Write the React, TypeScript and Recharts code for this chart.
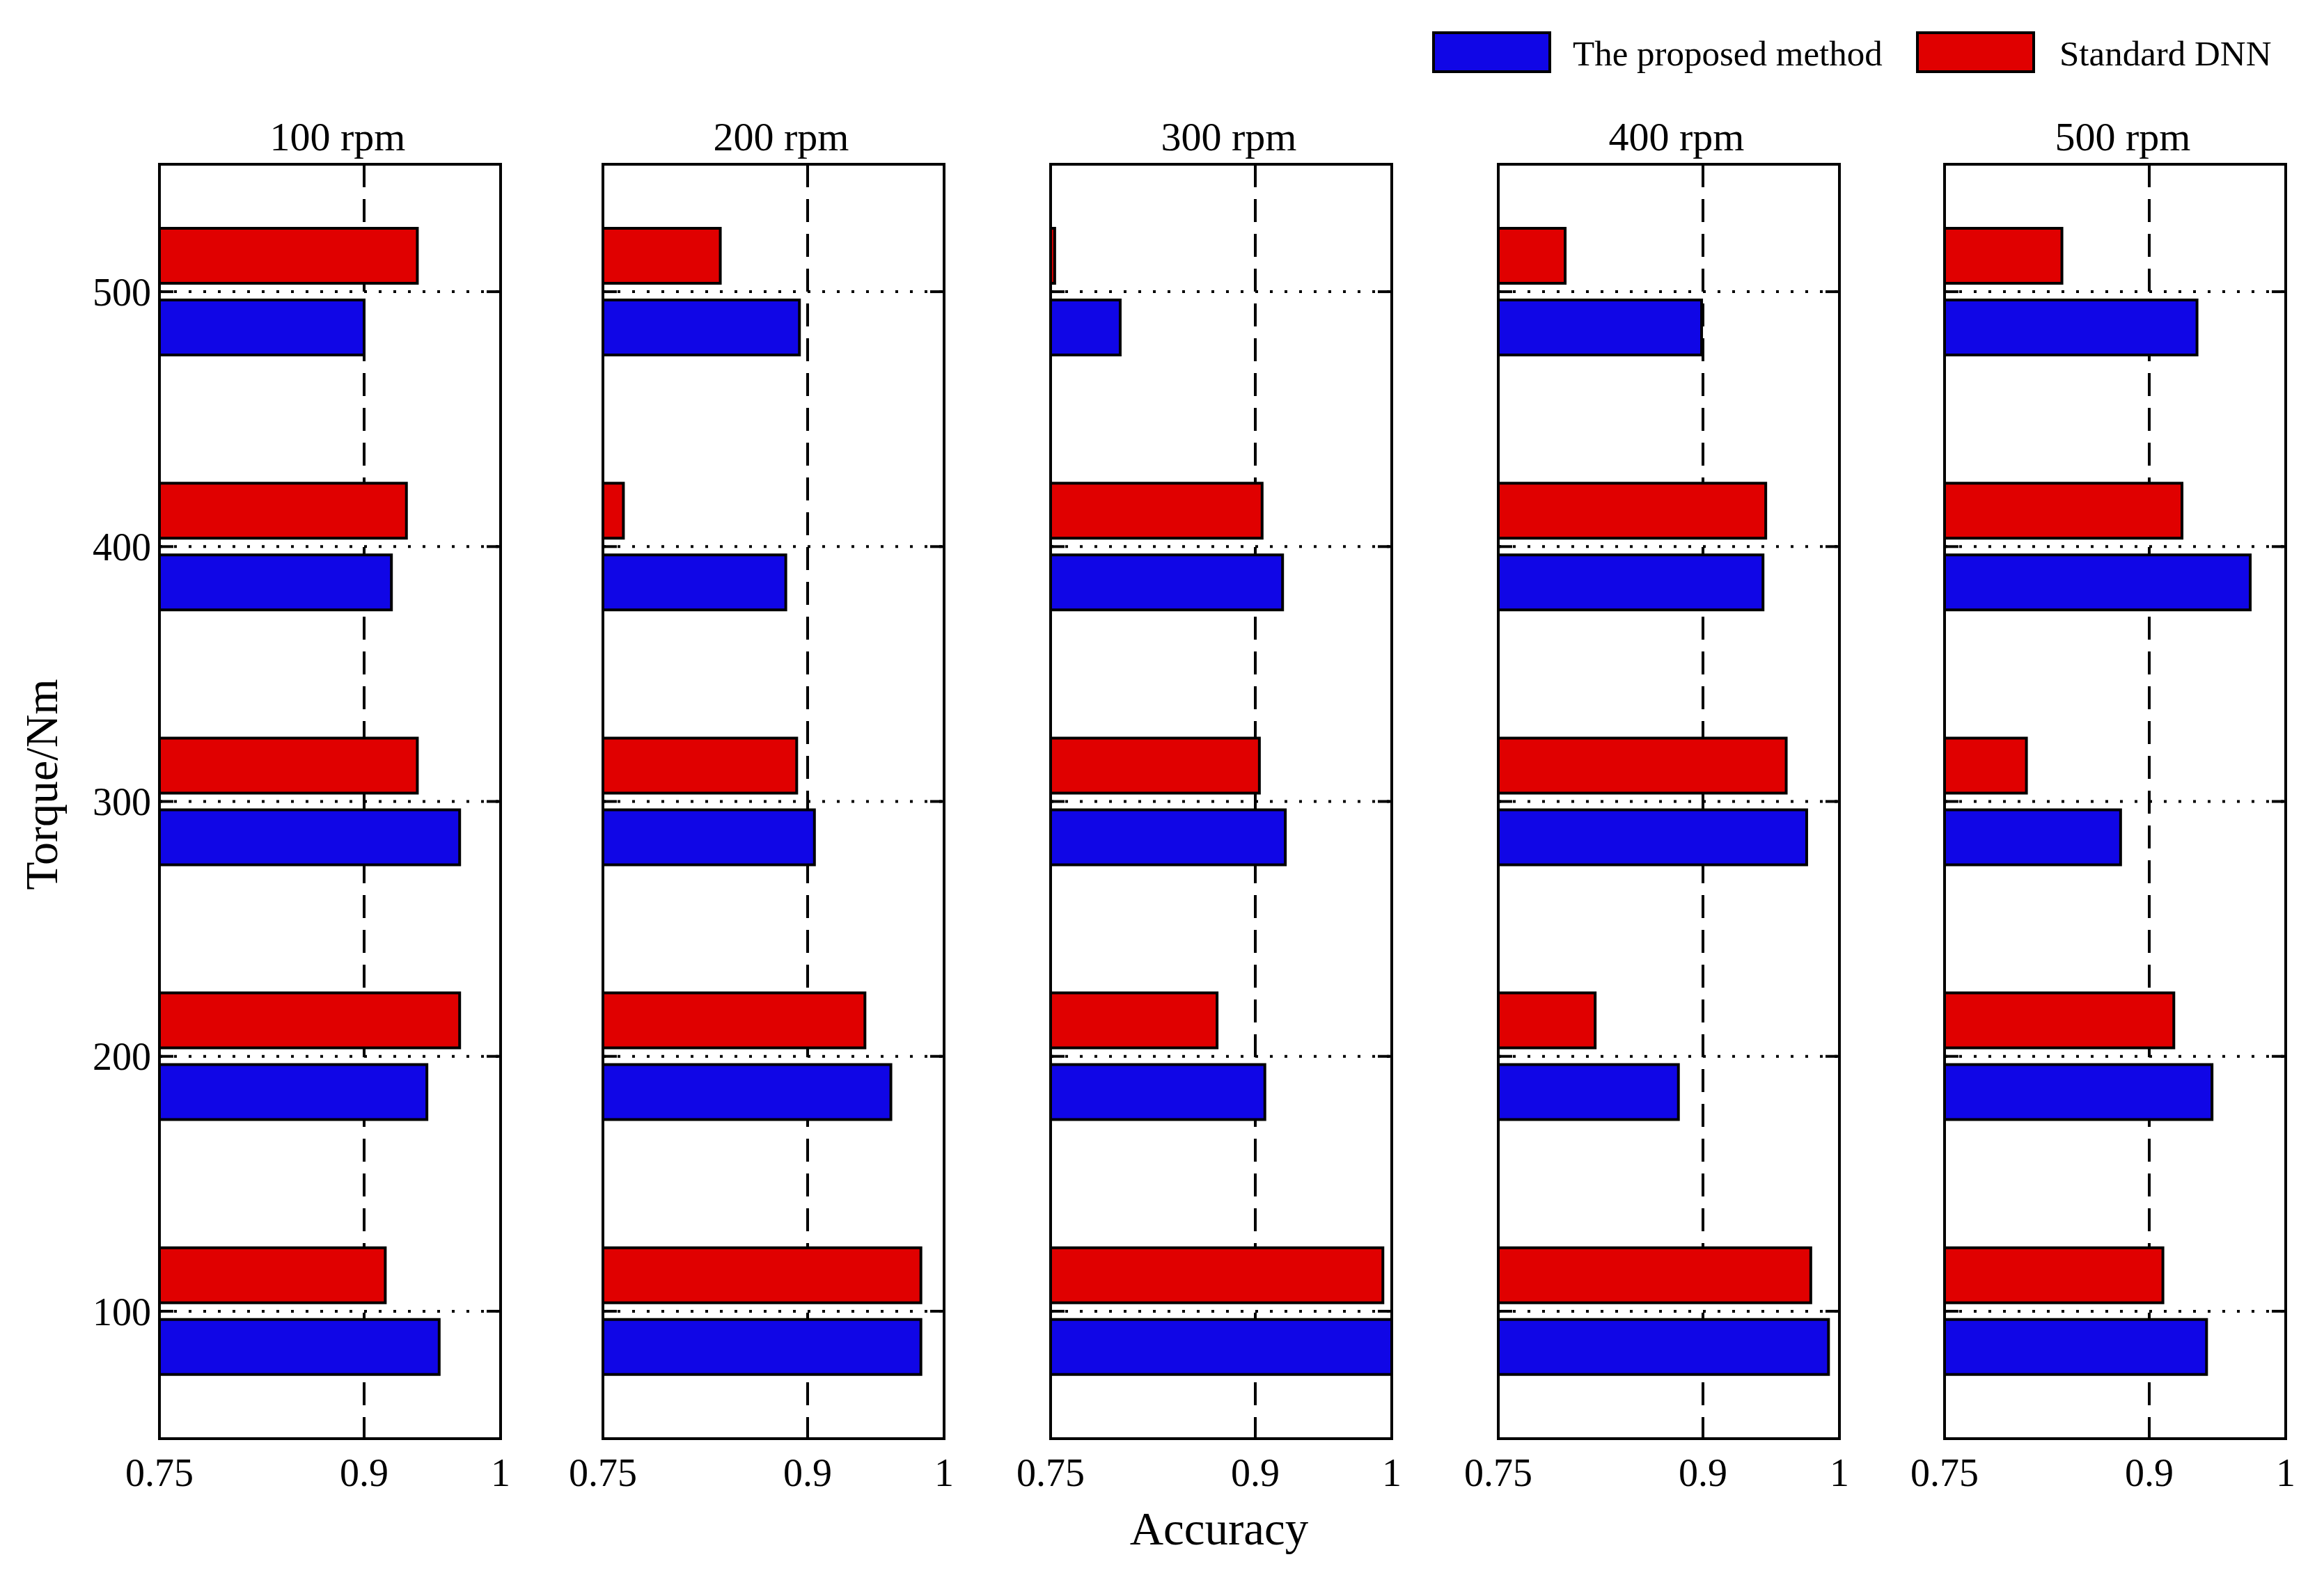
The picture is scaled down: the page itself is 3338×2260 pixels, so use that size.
import { BarChart, Bar, XAxis, YAxis, CartesianGrid, ReferenceArea } from 'recharts';

// torque levels, top to bottom as drawn
const torques = ['500', '400', '300', '200', '100'];
const speeds = ['100 rpm', '200 rpm', '300 rpm', '400 rpm', '500 rpm'];
const accuracyTicks = [0.75, 0.9, 1];

// accuracy per torque (500 -> 100), one array per speed
const proposed100 = [0.9, 0.92, 0.97, 0.946, 0.955];
const proposed200 = [0.894, 0.884, 0.905, 0.961, 0.983];
const proposed300 = [0.801, 0.92, 0.922, 0.907, 1.0];
const proposed400 = [0.899, 0.944, 0.976, 0.882, 0.992];
const proposed500 = [0.935, 0.974, 0.879, 0.946, 0.942];

const dnn100 = [0.939, 0.931, 0.939, 0.97, 0.9155];
const dnn200 = [0.836, 0.765, 0.892, 0.942, 0.983];
const dnn300 = [0.753, 0.905, 0.903, 0.872, 0.9935];
const dnn400 = [0.799, 0.946, 0.961, 0.821, 0.979];
const dnn500 = [0.836, 0.924, 0.81, 0.918, 0.91];

const proposedBySpeed = [proposed100, proposed200, proposed300, proposed400, proposed500];
const dnnBySpeed = [dnn100, dnn200, dnn300, dnn400, dnn500];

const BLUE = '#1006E6';
const RED = '#E00000';
const FONT = '"Liberation Serif", "Times New Roman", serif';

// layout
const PLOT_W = 490;
const PLOT_H = 1831;
const PLOT_TOP = 236;
const PANEL_LEFT = [229, 866, 1509, 2152, 2793];
const Y_AXIS_W = 150;
const Y_TICK_MARGIN = 12;
const MARGIN = { top: 4, right: 40, bottom: 0, left: 0 };
const X_AXIS_H = 110;

const YTick = (props: any) => {
  const { x, y, payload, showLabel } = props;
  const ax = x + Y_TICK_MARGIN;
  return (
    <g>
      <line x1={ax} x2={ax + 20} y1={y} y2={y} stroke="#000" strokeWidth={4} />
      <line x1={ax + PLOT_W - 20} x2={ax + PLOT_W} y1={y} y2={y} stroke="#000" strokeWidth={4} />
      {showLabel && (
        <text x={x} y={y} dy="0.35em" textAnchor="end" fontSize={56} fontFamily={FONT} fill="#000">
          {payload.value}
        </text>
      )}
    </g>
  );
};

const Panel = ({ index }: { index: number }) => {
  const data = torques.map((t, i) => ({
    torque: t,
    dnn: dnnBySpeed[index][i],
    proposed: proposedBySpeed[index][i],
  }));
  return (
    <div
      style={{
        position: 'absolute',
        left: PANEL_LEFT[index] - Y_AXIS_W,
        top: PLOT_TOP - MARGIN.top,
      }}
    >
      <BarChart
        width={Y_AXIS_W + PLOT_W + MARGIN.right}
        height={MARGIN.top + PLOT_H + X_AXIS_H}
        data={data}
        layout="vertical"
        margin={MARGIN}
        barCategoryGap={92}
        barGap={24}
      >
        <CartesianGrid vertical={false} stroke="#000" strokeWidth={4} strokeDasharray="4 17" />
        <CartesianGrid horizontal={false} stroke="#000" strokeWidth={4} strokeDasharray="33 17" />
        <XAxis
          type="number"
          domain={[0.75, 1]}
          ticks={accuracyTicks}
          interval={0}
          height={X_AXIS_H}
          axisLine={false}
          tickLine={false}
          tickSize={0}
          tickMargin={28}
          tick={{ fontSize: 56, fontFamily: FONT, fill: '#000' }}
          allowDataOverflow
        />
        <YAxis
          type="category"
          dataKey="torque"
          width={Y_AXIS_W}
          axisLine={false}
          tickLine={false}
          tickSize={0}
          tickMargin={Y_TICK_MARGIN}
          interval={0}
          tick={<YTick showLabel={index === 0} />}
        />
        <Bar dataKey="dnn" fill={RED} stroke="#000" strokeWidth={4} isAnimationActive={false} />
        <Bar dataKey="proposed" fill={BLUE} stroke="#000" strokeWidth={4} isAnimationActive={false} />
        <ReferenceArea x1={0.75} x2={1} fill="none" fillOpacity={0} stroke="#000" strokeWidth={4} />
      </BarChart>
    </div>
  );
};

const text = (extra: React.CSSProperties): React.CSSProperties => ({
  position: 'absolute',
  fontFamily: FONT,
  color: '#000',
  whiteSpace: 'nowrap',
  lineHeight: 1,
  ...extra,
});

const App = () => {
  return (
    <div
      style={{
        position: 'absolute',
        left: 0,
        top: 0,
        width: 3338,
        height: 2260,
        background: '#fff',
        overflow: 'hidden',
      }}
    >
      {/* legend */}
      <div style={{ position: 'absolute', left: 2057, top: 45, width: 163, height: 52, background: BLUE, border: '4px solid #000' }} />
      <div style={text({ left: 2259, top: 52, fontSize: 51 })}>The proposed method</div>
      <div style={{ position: 'absolute', left: 2752, top: 45, width: 163, height: 52, background: RED, border: '4px solid #000' }} />
      <div style={text({ left: 2958, top: 52, fontSize: 51 })}>Standard DNN</div>

      {speeds.map((s, i) => (
        <div key={s} style={text({ left: PANEL_LEFT[i] + 11, width: PLOT_W, textAlign: 'center', top: 168, fontSize: 58 })}>
          {s}
        </div>
      ))}

      {speeds.map((s, i) => (
        <Panel key={s} index={i} />
      ))}

      <div style={text({ left: 60, top: 1127, fontSize: 66, transform: 'translate(-50%, -50%) rotate(-90deg)' })}>
        Torque/Nm
      </div>
      <div style={text({ left: 1751, top: 2196, fontSize: 67, transform: 'translate(-50%, -50%)' })}>
        Accuracy
      </div>
    </div>
  );
};

export default App;
